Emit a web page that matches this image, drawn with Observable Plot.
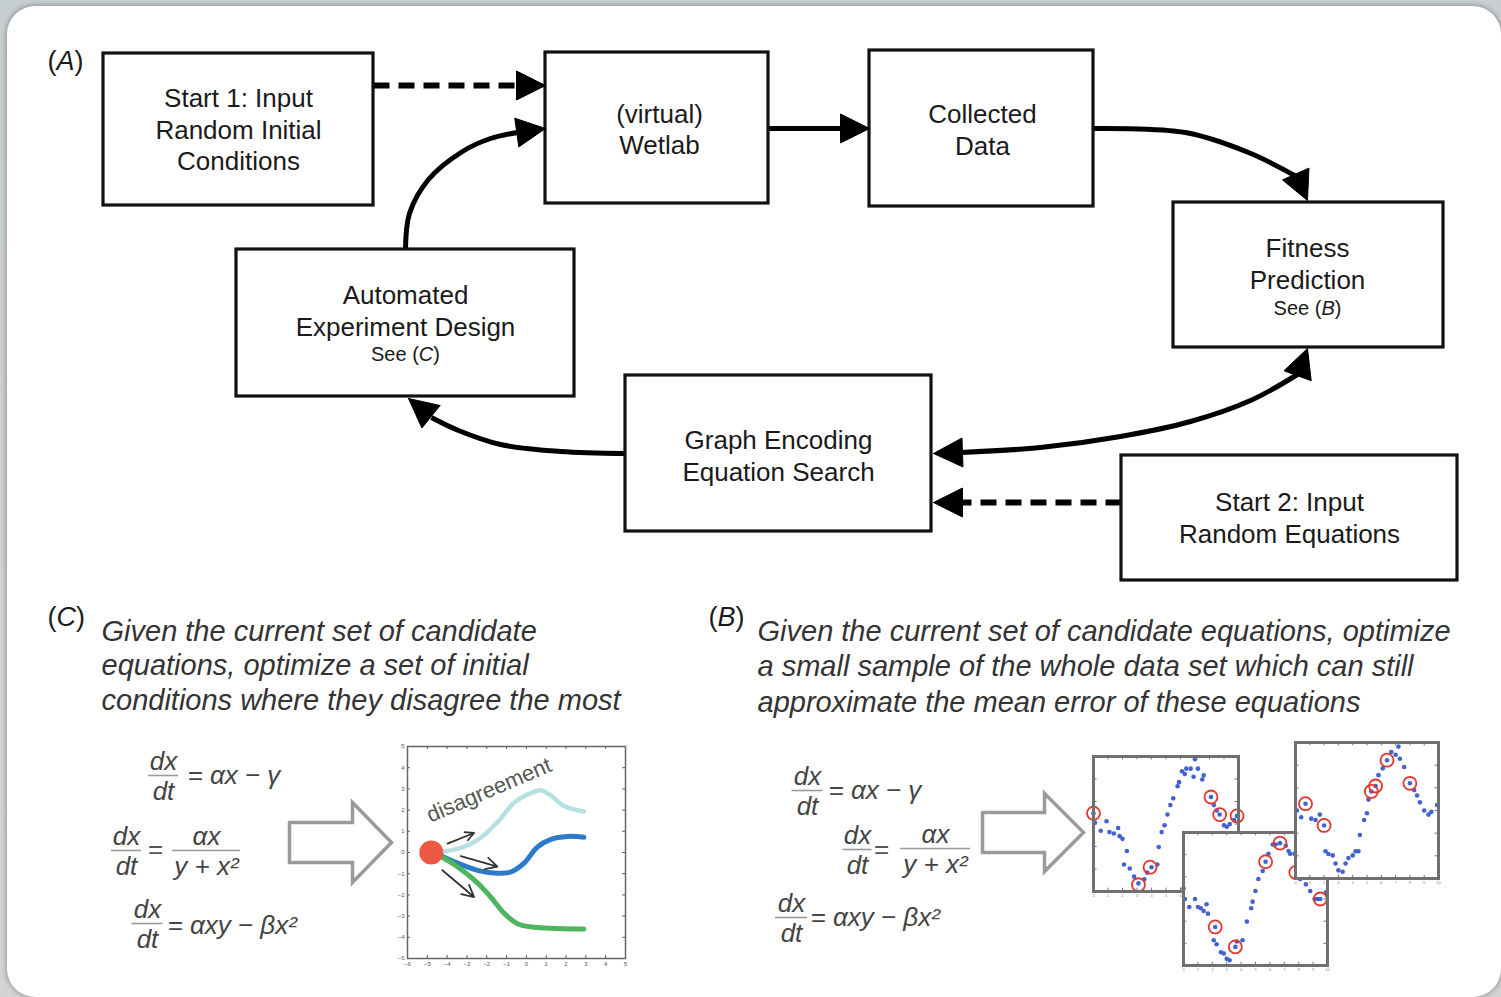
<!DOCTYPE html>
<html><head><meta charset="utf-8">
<script src="https://cdn.jsdelivr.net/npm/d3@7"></script>
<script src="https://cdn.jsdelivr.net/npm/@observablehq/plot@0.6"></script>
<style>
html,body{margin:0;padding:0;background:#d2d2d2;}
#page{position:relative;width:1501px;height:997px;overflow:hidden;background:linear-gradient(#c8cfd0,#d6d4d2);}
#card{position:absolute;left:7px;top:6px;width:1494px;height:991px;border-radius:28px;background:#fff;box-shadow:0 0 5px 1px rgba(0,0,0,0.3);}
.layer{position:absolute;}
.layer svg{max-width:none !important;}
</style></head>
<body><div id="page"><div id="card"></div></div>
<script>
const W = 1501, H = 997;
const FONT = "Liberation Sans, Arial, Helvetica, sans-serif";

// ---------- (A) flow diagram ----------
const boxes = [
  {id:"start1",  x1:103,  x2:373,  y1:53,  y2:205},
  {id:"wetlab",  x1:545,  x2:768,  y1:52,  y2:203},
  {id:"data",    x1:869,  x2:1093, y1:50,  y2:206},
  {id:"fitness", x1:1173, x2:1443, y1:202, y2:347},
  {id:"design",  x1:236,  x2:574,  y1:249, y2:396},
  {id:"search",  x1:625,  x2:931,  y1:375, y2:531},
  {id:"start2",  x1:1121, x2:1457, y1:455, y2:580}
];
const boxLines = [
  {text:"Start 1: Input", x:238, y:98},
  {text:"Random Initial", x:238, y:130},
  {text:"Conditions", x:238, y:161},
  {text:"(virtual)", x:659, y:114},
  {text:"Wetlab", x:659, y:145},
  {text:"Collected", x:982, y:114},
  {text:"Data", x:982, y:146},
  {text:"Fitness", x:1307, y:248},
  {text:"Prediction", x:1307, y:280},
  {text:"Automated", x:405, y:295},
  {text:"Experiment Design", x:405, y:327},
  {text:"Graph Encoding", x:778, y:440},
  {text:"Equation Search", x:778, y:472},
  {text:"Start 2: Input", x:1289, y:502},
  {text:"Random Equations", x:1289, y:534}
];
const seeLines = [
  {text:"See (B)", x:1307, y:308},
  {text:"See (C)", x:405, y:354}
];
const straightArrows = [
  {id:"start1-wetlab", x1:373,  y1:85,  x2:545, y2:85,  dashed:true},
  {id:"wetlab-data",   x1:768,  y1:128, x2:869, y2:128, dashed:false},
  {id:"start2-search", x1:1121, y1:502, x2:933, y2:502, dashed:true}
];
const curves = [
  {id:"data-fitness",   pts:[[1093,128],[1185,132],[1248,152],[1296,176]]},
  {id:"fitness-search", pts:[[1297,374],[1250,400],[1190,421],[1120,436],[1040,447],[961,452]]},
  {id:"search-design",  pts:[[625,453],[560,451],[500,444],[458,430],[431,417]]},
  {id:"design-wetlab",  pts:[[405,249],[409,213],[428,179],[462,151],[490,138],[517,132]]}
];
const heads = [
  {id:"h1", x:545,  y:85,  angle:0},
  {id:"h2", x:869,  y:128, angle:0},
  {id:"h3", x:933,  y:502, angle:180},
  {id:"h4", x:1307, y:200, angle:66},
  {id:"h5", x:1307, y:348, angle:-70},
  {id:"h6", x:933,  y:453, angle:178},
  {id:"h7", x:408,  y:398, angle:-141},
  {id:"h8", x:545,  y:128, angle:-8}
];
const HEAD_L = 29, HEAD_W = 29;

const panelLabels = [
  {text:"(A)", x:47,  y:61},
  {text:"(C)", x:47,  y:617},
  {text:"(B)", x:708, y:617}
];
const descC = ["Given the current set of candidate", "equations, optimize a set of initial", "conditions where they disagree the most"];
const descB = ["Given the current set of candidate equations, optimize", "a small sample of the whole data set which can still", "approximate the mean error of these equations"];
const descCPos = {x:101, y:[631, 665, 700]};
const descBPos = {x:757, y:[631, 666, 702]};

// hollow block arrows
const blockArrows = [
  {id:"arrowC", x0:289, x1:352, x2:391, yc:842, shaft:20, head:40},
  {id:"arrowB", x0:982, x1:1044, x2:1083, yc:832, shaft:20, head:39}
];

// equations
const fractions = [
  {num:"dx", den:"dt",     x:163, y:775, w:30},
  {num:"dx", den:"dt",     x:126, y:850, w:30},
  {num:"αx", den:"y + x²", x:206, y:850, w:68},
  {num:"dx", den:"dt",     x:147, y:923, w:31},
  {num:"dx", den:"dt",     x:807, y:790, w:31},
  {num:"dx", den:"dt",     x:857, y:849, w:29},
  {num:"αx", den:"y + x²", x:935, y:848, w:70},
  {num:"dx", den:"dt",     x:791, y:917, w:32}
];
const eqRight = [
  {text:"= αx − γ",     x:187, y:775, anchor:"start"},
  {text:"=",            x:155, y:849, anchor:"middle"},
  {text:"= αxy − βx²",  x:167, y:925, anchor:"start"},
  {text:"= αx − γ",     x:828, y:790, anchor:"start"},
  {text:"=",            x:881, y:849, anchor:"middle"},
  {text:"= αxy − βx²",  x:810, y:917, anchor:"start"}
];

// ---------- (C) mini plot data ----------
const cTicksX = [-6,-5,-4,-3,-2,-1,0,1,2,3,4,5];
const cTicksY = [-5,-4,-3,-2,-1,0,1,2,3,4,5];
const trajLight = [[-4.66,0],[-3.48,0.17],[-2.47,0.58],[-1.46,1.43],[-0.62,2.35],[0.22,2.8],[0.72,2.94],[1.23,2.69],[1.9,2.19],[2.9,1.93]];
const trajBlue  = [[-4.66,0],[-3.48,-0.5],[-2.47,-0.84],[-1.46,-0.98],[-0.79,-0.92],[-0.12,-0.5],[0.55,0.25],[1.23,0.62],[2.07,0.76],[2.9,0.72]];
const trajGreen = [[-4.66,0],[-3.48,-0.67],[-2.47,-1.43],[-1.8,-2.1],[-1.13,-2.86],[-0.45,-3.36],[0.39,-3.53],[1.56,-3.58],[2.9,-3.61]];
const startPoint = [[-4.8, 0]];
const cArrows = [
  {x1:-3.98, y1:0.42,  x2:-2.64, y2:0.92},
  {x1:-3.31, y1:-0.17, x2:-1.46, y2:-0.67},
  {x1:-4.24, y1:-0.84, x2:-2.64, y2:-2.1}
];
const cLabel = [{text:"disagreement", x:-1.88, y:2.94}];

// ---------- (B) mini panels data (x, y in 0..100 of each panel) ----------
const dotsB1 = [[0,58],[1,51],[5,45],[9,52],[11,44],[14,43],[17,47],[18,41],[20,39],[23,30],[21,20],[25,17],[28,11],[31,6],[35,9],[37,14],[40,18],[44,20],[45,33],[47,44],[49,49],[51,57],[53,64],[55,69],[58,78],[59,81],[61,89],[63,87],[64,91],[67,91],[70,98],[72,91],[69,85],[76,86],[75,83],[81,70],[83,64],[85,60],[87,57],[90,49],[92,48],[94,50],[97,53],[99,56]];
const ringsB1 = [[0,58],[31,5],[39,18],[81,70],[87,57],[99,56]];
const dotsB2 = [[0,58],[1,50],[4,44],[8,50],[10,44],[12,43],[14,41],[16,46],[17,39],[22,29],[21,19],[23,16],[26,10],[28,9],[30,5],[32,4],[36,14],[37,18],[41,19],[44,33],[47,43],[48,48],[50,56],[52,65],[55,71],[57,78],[59,84],[62,91],[64,91],[67,92],[71,90],[73,86],[74,84],[77,84],[81,65],[85,61],[88,56],[91,50],[93,50],[95,50],[99,55]];
const ringsB2 = [[22,29],[36,14],[57,78],[67,92],[78,70],[95,50]];
const dotsB3 = [[1,50],[4,45],[7,55],[11,44],[14,43],[17,47],[20,39],[21,20],[23,18],[26,17],[28,11],[30,6],[33,5],[35,11],[37,15],[40,17],[42,20],[44,20],[45,32],[48,43],[50,48],[51,58],[53,64],[56,68],[58,76],[61,81],[64,87],[67,93],[70,91],[72,97],[73,88],[76,82],[80,70],[83,65],[85,61],[87,56],[90,50],[93,47],[95,49],[99,54]];
const ringsB3 = [[7,55],[20,39],[53,64],[56,68],[64,87],[80,70]];
const bTicksX = [0,10,20,30,40,50,60,70,80,90,100];
const bTicksY = [0,16.67,33.33,50,66.67,83.33,100];
const bTickLabels = ["0","1","2","3","4","5","6","7","8","9","10"];

const panelsB = [
  {dots:dotsB1, rings:ringsB1, x1:1093, x2:1238, y1:756, y2:891},
  {dots:dotsB2, rings:ringsB2, x1:1183, x2:1327, y1:832, y2:965},
  {dots:dotsB3, rings:ringsB3, x1:1295, x2:1438, y1:742, y2:878}
];
const panelC = {x1:407, x2:625, y1:746, y2:958};

// ---------- derived geometry ----------
function headPoly(h) {
  const a = h.angle * Math.PI / 180, dx = Math.cos(a), dy = Math.sin(a);
  const bx = h.x - HEAD_L * dx, by = h.y - HEAD_L * dy;
  const px = -dy, py = dx;
  return [
    {id:h.id, x:h.x, y:h.y},
    {id:h.id, x:bx + px * HEAD_W / 2, y:by + py * HEAD_W / 2},
    {id:h.id, x:bx - px * HEAD_W / 2, y:by - py * HEAD_W / 2},
    {id:h.id, x:h.x, y:h.y}
  ];
}
const headPts = heads.flatMap(headPoly);
const shafts = straightArrows.map(a => {
  const len = Math.hypot(a.x2 - a.x1, a.y2 - a.y1);
  const ux = (a.x2 - a.x1) / len, uy = (a.y2 - a.y1) / len;
  return {...a, sx2: a.x2 - ux * (HEAD_L - 2), sy2: a.y2 - uy * (HEAD_L - 2)};
});
const curvePts = curves.flatMap(c => c.pts.map(([x, y]) => ({id:c.id, x, y})));
const blockPts = blockArrows.flatMap(b => [
  [b.x0, b.yc - b.shaft], [b.x1, b.yc - b.shaft], [b.x1, b.yc - b.head], [b.x2, b.yc],
  [b.x1, b.yc + b.head], [b.x1, b.yc + b.shaft], [b.x0, b.yc + b.shaft], [b.x0, b.yc - b.shaft]
].map(([x, y]) => ({id:b.id, x, y})));
const descTexts = [
  ...descC.map((t, i) => ({text:t, x:descCPos.x, y:descCPos.y[i]})),
  ...descB.map((t, i) => ({text:t, x:descBPos.x, y:descBPos.y[i]}))
];
const fracTop = fractions.map(f => ({text:f.num, x:f.x, y:f.y - 14}));
const fracBot = fractions.map(f => ({text:f.den, x:f.x, y:f.y + 16}));
const fracBars = fractions.map(f => ({x1:f.x - f.w / 2, x2:f.x + f.w / 2, y:f.y}));

// ---------- main drawing ----------
const main = Plot.plot({
  width: W, height: H, margin: 0,
  x: {domain:[0, W], range:[0, W], axis:null},
  y: {domain:[0, H], range:[0, H], axis:null},
  style: {background:"transparent", fontFamily:FONT, overflow:"visible"},
  marks: [
    Plot.link(shafts.filter(d => d.dashed), {x1:"x1", y1:"y1", x2:"sx2", y2:"sy2", stroke:"#000", strokeWidth:6, strokeDasharray:"16 9"}),
    Plot.link(shafts.filter(d => !d.dashed), {x1:"x1", y1:"y1", x2:"sx2", y2:"sy2", stroke:"#000", strokeWidth:5}),
    Plot.line(curvePts, {x:"x", y:"y", z:"id", curve:"catmull-rom", stroke:"#000", strokeWidth:5, strokeLinecap:"butt"}),
    Plot.rect(boxes, {x1:"x1", x2:"x2", y1:"y1", y2:"y2", fill:"white", stroke:"#111", strokeWidth:3.2}),
    Plot.line(headPts, {x:"x", y:"y", z:"id", fill:"#000", stroke:"#000", strokeWidth:1, strokeLinejoin:"miter", strokeMiterlimit:10}),
    Plot.text(boxLines, {x:"x", y:"y", text:"text", fontSize:26, fill:"#1a1a1a", fontFamily:FONT}),
    Plot.text(seeLines, {x:"x", y:"y", text:"text", fontSize:20, fill:"#1a1a1a", fontFamily:FONT}),
    Plot.text(panelLabels, {x:"x", y:"y", text:"text", fontSize:27, textAnchor:"start", fill:"#1a1a1a", fontFamily:FONT}),
    Plot.text(descTexts, {x:"x", y:"y", text:"text", fontSize:29, fontStyle:"italic", textAnchor:"start", fill:"#333", fontFamily:FONT}),
    Plot.line(blockPts, {x:"x", y:"y", z:"id", fill:"white", stroke:"#9a9a9a", strokeWidth:3.5, strokeLinejoin:"miter", strokeMiterlimit:10}),
    Plot.text(fracTop, {x:"x", y:"y", text:"text", fontSize:26, fontStyle:"italic", fill:"#444", fontFamily:FONT}),
    Plot.text(fracBot, {x:"x", y:"y", text:"text", fontSize:26, fontStyle:"italic", fill:"#444", fontFamily:FONT}),
    Plot.ruleY(fracBars, {y:"y", x1:"x1", x2:"x2", stroke:"#999", strokeWidth:1.6}),
    Plot.text(eqRight.filter(d => d.anchor === "start"), {x:"x", y:"y", text:"text", fontSize:26, fontStyle:"italic", textAnchor:"start", fill:"#444", fontFamily:FONT}),
    Plot.text(eqRight.filter(d => d.anchor === "middle"), {x:"x", y:"y", text:"text", fontSize:26, fill:"#555", fontFamily:FONT})
  ]
});
d3.select(main).selectAll("text").each(function() {
  const t = this.textContent;
  if (/\([ABC]\)/.test(t)) this.innerHTML = t.replace(/\(([ABC])\)/, '(<tspan font-style="italic">$1</tspan>)');
});

const page = document.getElementById("page");
function place(node, left, top) {
  const d = document.createElement("div");
  d.className = "layer";
  d.style.left = left + "px";
  d.style.top = top + "px";
  d.appendChild(node);
  page.appendChild(d);
}
place(main, 0, 0);

// ---------- (C) mini chart ----------
{
  const ml = 10, mr = 3, mt = 3, mb = 12;
  const iw = panelC.x2 - panelC.x1, ih = panelC.y2 - panelC.y1;
  const xs = [-6, 5], ys = [-5, 5];
  const tx = 0.14, ty = 0.14;
  const mini = Plot.plot({
    width: iw + ml + mr, height: ih + mt + mb,
    marginLeft: ml, marginRight: mr, marginTop: mt, marginBottom: mb,
    x: {domain: xs, axis: null}, y: {domain: ys, axis: null},
    style: {background:"transparent", fontFamily:FONT, overflow:"visible"},
    marks: [
      Plot.frame({fill:"white", stroke:"white"}),
      Plot.ruleX(cTicksX, {y1:ys[0], y2:ys[0] + ty, stroke:"#555", strokeWidth:1}),
      Plot.ruleX(cTicksX, {y1:ys[1], y2:ys[1] - ty, stroke:"#555", strokeWidth:1}),
      Plot.ruleY(cTicksY, {x1:xs[0], x2:xs[0] + tx, stroke:"#555", strokeWidth:1}),
      Plot.ruleY(cTicksY, {x1:xs[1], x2:xs[1] - tx, stroke:"#555", strokeWidth:1}),
      Plot.axisX({ticks:cTicksX, tickSize:0, tickPadding:3, fontSize:6, fill:"#555", label:null}),
      Plot.axisY({ticks:cTicksY, tickSize:0, tickPadding:3, fontSize:6, fill:"#555", label:null}),
      Plot.text(cLabel, {x:"x", y:"y", text:"text", rotate:-23, fontSize:22, fill:"#555", fontFamily:FONT}),
      Plot.line(trajLight, {x:d => d[0], y:d => d[1], curve:"catmull-rom", stroke:"#b4e0e3", strokeWidth:4.5}),
      Plot.line(trajBlue, {x:d => d[0], y:d => d[1], curve:"catmull-rom", stroke:"#2b7acb", strokeWidth:5}),
      Plot.line(trajGreen, {x:d => d[0], y:d => d[1], curve:"catmull-rom", stroke:"#4db55e", strokeWidth:5}),
      Plot.dot(startPoint, {x:d => d[0], y:d => d[1], r:12, fill:"#ec5843", stroke:"none"}),
      Plot.arrow(cArrows, {x1:"x1", y1:"y1", x2:"x2", y2:"y2", stroke:"#333", strokeWidth:1.8, headLength:11, headAngle:55}),
      Plot.frame({stroke:"#666", strokeWidth:1.5})
    ]
  });
  place(mini, panelC.x1 - ml, panelC.y1 - mt);
}

// ---------- (B) mini panels ----------
panelsB.forEach(p => {
  const ml = 8, mr = 3, mt = 3, mb = 9;
  const iw = p.x2 - p.x1, ih = p.y2 - p.y1;
  const mini = Plot.plot({
    width: iw + ml + mr, height: ih + mt + mb,
    marginLeft: ml, marginRight: mr, marginTop: mt, marginBottom: mb,
    x: {domain:[0, 100], axis:null}, y: {domain:[0, 100], axis:null},
    style: {background:"transparent", fontFamily:FONT, overflow:"visible"},
    marks: [
      Plot.frame({fill:"white", stroke:"white"}),
      Plot.ruleX(bTicksX, {y1:0, y2:2.5, stroke:"#777", strokeWidth:1}),
      Plot.ruleX(bTicksX, {y1:100, y2:97.5, stroke:"#777", strokeWidth:1}),
      Plot.ruleY(bTicksY, {x1:0, x2:2.5, stroke:"#777", strokeWidth:1}),
      Plot.ruleY(bTicksY, {x1:100, x2:97.5, stroke:"#777", strokeWidth:1}),
      Plot.axisX({ticks:bTicksX, tickFormat:(d, i) => bTickLabels[i], tickSize:0, tickPadding:3, fontSize:4, fill:"#888", label:null}),
      Plot.axisY({ticks:bTicksY, tickFormat:() => "·", tickSize:0, tickPadding:3, fontSize:5, fill:"#888", label:null}),
      Plot.dot(p.dots, {x:d => d[0], y:d => d[1], r:2.3, fill:"#4262cf", stroke:"none"}),
      Plot.dot(p.rings, {x:d => d[0], y:d => d[1], r:6.5, fill:"none", stroke:"#e8342c", strokeWidth:1.8}),
      Plot.frame({stroke:"#707070", strokeWidth:3})
    ]
  });
  place(mini, p.x1 - ml, p.y1 - mt);
});
</script>
</body></html>
